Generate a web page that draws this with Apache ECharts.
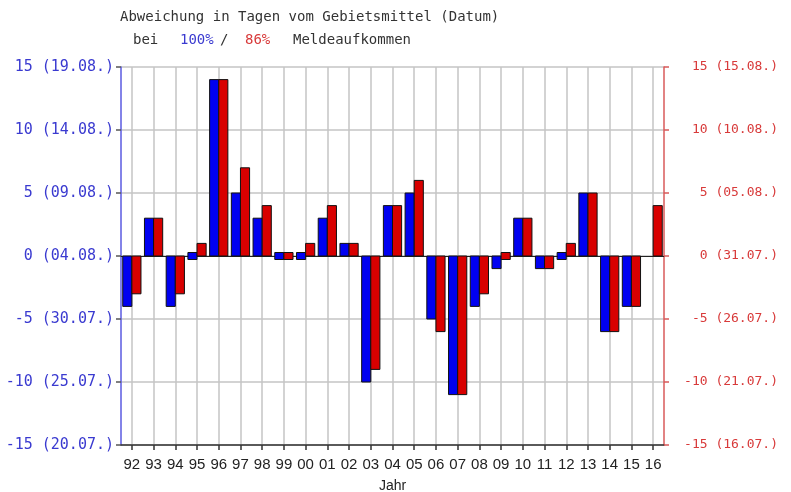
<!DOCTYPE html>
<html>
<head>
<meta charset="utf-8">
<title>Abweichung in Tagen vom Gebietsmittel</title>
<script src="https://cdn.jsdelivr.net/npm/echarts@6/dist/echarts.min.js"></script>
<style>
  html, body { margin: 0; padding: 0; background: #ffffff; }
  #chart { width: 791px; height: 492px; }
</style>
</head>
<body>
<div id="chart"></div>
<script>
// Years (two-digit) on the category axis
const years = ['92', '93', '94', '95', '96', '97', '98', '99', '00', '01', '02', '03',
               '04', '05', '06', '07', '08', '09', '10', '11', '12', '13', '14', '15', '16'];

// Deviation in days from the regional mean, at 100 % and 86 % of reports
const dev100 = [-4, 3, -4, 0, 14, 5, 3, 0, 0, 3, 1, -10, 4, 5, -5, -11, -4, -1, 3, -1, 0, 5, -6, -4, null];
const dev86  = [-3, 3, -3, 1, 14, 7, 4, 0, 1, 4, 1, -9, 4, 6, -6, -11, -3, 0, 3, -1, 1, 5, -6, -4, 4];

// Axis ticks and the calendar dates they stand for
const yTicks     = [-15, -10, -5, 0, 5, 10, 15];
const datesLeft  = ['20.07.', '25.07.', '30.07.', '04.08.', '09.08.', '14.08.', '19.08.'];
const datesRight = ['16.07.', '21.07.', '26.07.', '31.07.', '05.08.', '10.08.', '15.08.'];

const BLUE = '#0000f0';
const RED = '#d80000';
const MONO = '"DejaVu Sans Mono", "Liberation Mono", monospace';
const SANS = '"Liberation Sans", Arial, sans-serif';

// Bars sit on either side of the category centre; a zero value is shown
// as a small box straddling the zero line.
function makeBar(side, fill) {
  return function (params, api) {
    const v = api.value(1);
    if (v === null || isNaN(v)) return null;
    const i = api.value(0);
    const p0 = api.coord([i, 0]);
    const p1 = api.coord([i, v]);
    const band = api.size([1, 0])[0];
    const w = band * 0.42;
    const x = side < 0 ? p0[0] - w : p0[0];
    let y = Math.min(p0[1], p1[1]);
    let h = Math.abs(p1[1] - p0[1]);
    if (v === 0) { y = p0[1] - 3.5; h = 7; }
    return {
      type: 'rect',
      shape: { x: x, y: y, width: w, height: h },
      style: { fill: fill, stroke: '#111', lineWidth: 1 }
    };
  };
}

const chart = echarts.init(document.getElementById('chart'), null, { renderer: 'canvas' });

chart.setOption({
  animation: false,
  backgroundColor: '#ffffff',
  grid: { left: 121, right: 127, top: 67, bottom: 47, containLabel: false, outerBoundsMode: 'none' },
  graphic: [
    { type: 'text', left: 120, top: 10,
      style: { text: 'Abweichung in Tagen vom Gebietsmittel (Datum)', font: '14px ' + MONO, fill: '#333' } },
    { type: 'text', left: 133, top: 33,
      style: { text: 'bei', font: '14px ' + MONO, fill: '#333' } },
    { type: 'text', left: 180, top: 33,
      style: { text: '100%', font: '14px ' + MONO, fill: '#3a3ad0' } },
    { type: 'text', left: 220, top: 33,
      style: { text: '/', font: '14px ' + MONO, fill: '#333' } },
    { type: 'text', left: 245, top: 33,
      style: { text: '86%', font: '14px ' + MONO, fill: '#d83a3a' } },
    { type: 'text', left: 293, top: 33,
      style: { text: 'Meldeaufkommen', font: '14px ' + MONO, fill: '#333' } }
  ],
  xAxis: [
    {
      type: 'category',
      data: years,
      position: 'bottom',
      boundaryGap: true,
      name: 'Jahr',
      nameLocation: 'middle',
      nameGap: 34,
      nameTextStyle: { fontFamily: SANS, fontSize: 14, color: '#222' },
      axisLine: { onZero: false, lineStyle: { color: '#333', width: 1.5 } },
      axisTick: { show: true, alignWithLabel: true, length: 5, lineStyle: { color: '#333', width: 1.5 } },
      axisLabel: { fontFamily: SANS, fontSize: 15, color: '#222', margin: 12, interval: 0 },
      splitLine: { show: true, alignWithLabel: true, interval: 0, lineStyle: { color: '#c4c4c4', width: 1.5 } }
    },
    {
      // zero line
      type: 'category',
      data: years,
      position: 'top',
      axisLine: { show: true, onZero: true, lineStyle: { color: '#222', width: 1.2 } },
      axisTick: { show: false },
      axisLabel: { show: false },
      splitLine: { show: false }
    }
  ],
  yAxis: [
    {
      type: 'value',
      position: 'left',
      min: -15, max: 15, interval: 5,
      axisLine: { show: true, lineStyle: { color: '#5a5ae0', width: 1.5 } },
      axisTick: { show: true, length: 5, lineStyle: { color: '#555', width: 1.5 } },
      axisLabel: {
        fontFamily: MONO, fontSize: 15, color: '#3a3ad0', margin: 7,
        formatter: function (v) { return v + ' (' + datesLeft[yTicks.indexOf(v)] + ')'; }
      },
      splitLine: { show: true, lineStyle: { color: '#c4c4c4', width: 1.5 } }
    },
    {
      type: 'value',
      position: 'right',
      min: -15, max: 15, interval: 5,
      axisLine: { show: true, lineStyle: { color: '#d85a5a', width: 1.5 } },
      axisTick: { show: true, length: 5, lineStyle: { color: '#d85a5a', width: 1.5 } },
      axisLabel: {
        fontFamily: MONO, fontSize: 13, color: '#d83a3a', margin: 114, align: 'right',
        formatter: function (v) { return v + ' (' + datesRight[yTicks.indexOf(v)] + ')'; }
      },
      splitLine: { show: false }
    }
  ],
  series: [
    {
      name: '100%',
      type: 'custom',
      xAxisIndex: 0, yAxisIndex: 0,
      renderItem: makeBar(-1, BLUE),
      encode: { x: 0, y: 1 },
      data: dev100.map(function (v, i) { return [i, v]; }),
      z: 3
    },
    {
      name: '86%',
      type: 'custom',
      xAxisIndex: 0, yAxisIndex: 0,
      renderItem: makeBar(1, RED),
      encode: { x: 0, y: 1 },
      data: dev86.map(function (v, i) { return [i, v]; }),
      z: 3
    }
  ]
});
</script>
</body>
</html>
